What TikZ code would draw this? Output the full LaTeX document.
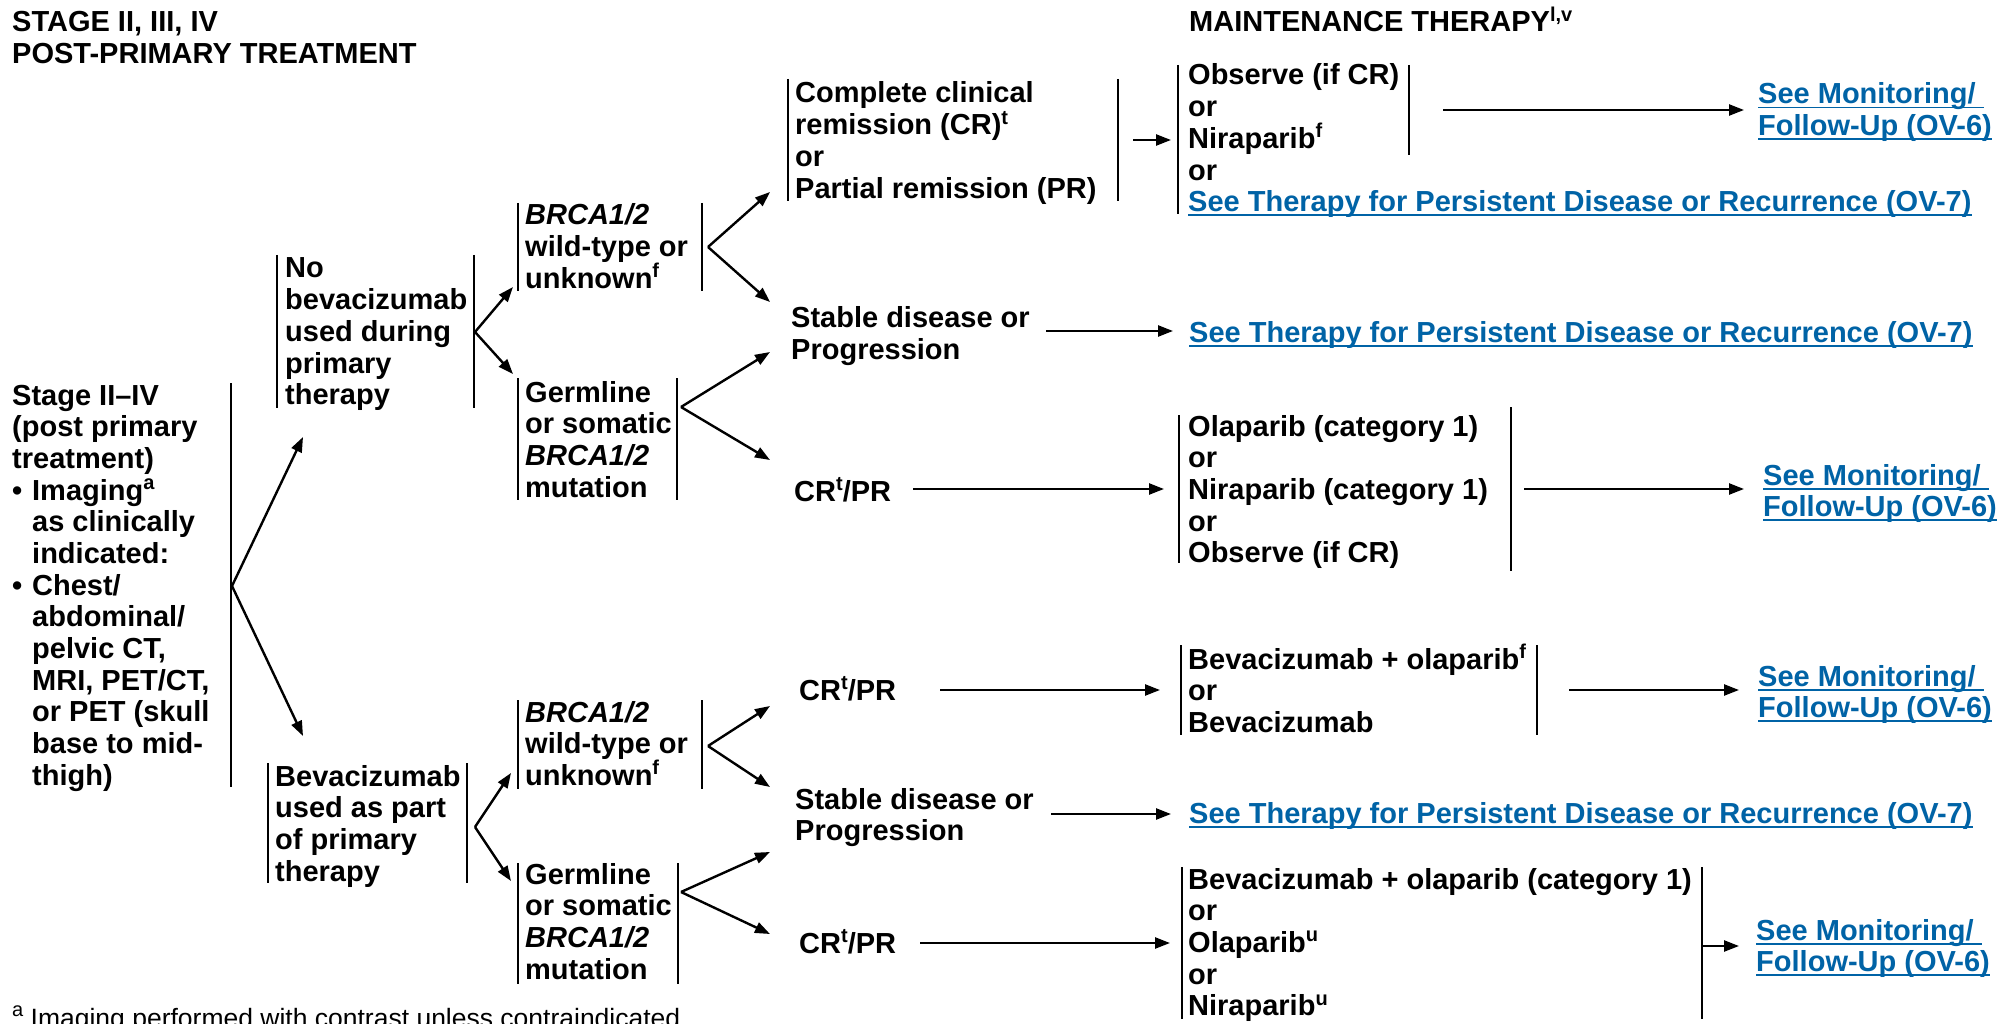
\documentclass[tikz,border=0pt]{standalone}
\usepackage{fontspec}
\setmainfont{Liberation Sans}
\usetikzlibrary{arrows.meta}
\definecolor{linkblue}{RGB}{0,99,166}
\newsavebox\ulbox
\newcommand\ulink[1]{\sbox\ulbox{#1}\rlap{\rule[-4.5pt]{\wd\ulbox}{1.8pt}}\usebox\ulbox}
\newcommand\lnk[1]{{\color{linkblue}\ulink{#1}}}
\newcommand\sups[1]{\smash{\raisebox{10.5pt}{\fontsize{20}{20}\selectfont #1}}}
\newcommand\lines[1]{\begin{tabular}[t]{@{}l@{}}#1\end{tabular}}
\newcommand\bul{\makebox[20pt][l]{•}}
\newcommand\ind{\hspace*{20pt}}
\tikzset{
  txt/.style={inner sep=0pt, anchor=base west, font=\fontsize{29}{31.7}\selectfont\bfseries},
  bar/.style={line width=2.6pt},
  arr/.style={line width=2.4pt, -{Triangle[length=15pt,width=11pt]}},
}
\begin{document}
\begin{tikzpicture}[x=1pt,y=-1pt]
\useasboundingbox (0,0) rectangle (2011,1024);
\clip (0,0) rectangle (2011,1024);
\fill[white] (0,0) rectangle (2011,1024);

% headers
\node[txt] (H1) at (12,32) {\lines{STAGE II, III, IV\\POST-PRIMARY TREATMENT}};
\node[txt] (H2) at (1189,32) {MAINTENANCE THERAPY\sups{l,v}};

% column 1
\node[txt] (L) at (12,405) {\lines{Stage II–IV\\(post primary\\treatment)\\\bul Imaging\sups{a}\\\ind as clinically\\\ind indicated:\\\bul Chest/\\\ind abdominal/\\\ind pelvic CT,\\\ind MRI, PET/CT,\\\ind or PET (skull\\\ind base to mid-\\\ind thigh)}};

% column 2
\node[txt] (N) at (285,278) {\lines{No\\bevacizumab\\used during\\primary\\therapy}};
\node[txt] (B) at (275,786) {\lines{Bevacizumab\\used as part\\of primary\\therapy}};

% column 3
\node[txt] (W1) at (525,225) {\lines{\textit{BRCA1/2}\\wild-type or\\unknown\sups{f}}};
\node[txt] (G1) at (525,402) {\lines{Germline\\or somatic\\\textit{BRCA1/2}\\mutation}};
\node[txt] (W2) at (525,722) {\lines{\textit{BRCA1/2}\\wild-type or\\unknown\sups{f}}};
\node[txt] (G2) at (525,884) {\lines{Germline\\or somatic\\\textit{BRCA1/2}\\mutation}};

% column 4
\node[txt] (C1) at (795,103) {\lines{Complete clinical\\remission (CR)\sups{t}\\or\\Partial remission (PR)}};
\node[txt] (S1) at (791,328) {\lines{Stable disease or\\Progression}};
\node[txt] (R1) at (794,501) {CR\sups{t}/PR};
\node[txt] (R2) at (799,700) {CR\sups{t}/PR};
\node[txt] (S2) at (795,809) {\lines{Stable disease or\\Progression}};
\node[txt] (R3) at (799,953) {CR\sups{t}/PR};

% column 5
\node[txt] (O1) at (1188,85) {\lines{Observe (if CR)\\or\\Niraparib\sups{f}\\or\\\lnk{See Therapy for Persistent Disease or Recurrence (OV-7)}}};
\node[txt] (T1) at (1189,342) {\lnk{See Therapy for Persistent Disease or Recurrence (OV-7)}};
\node[txt] (O2) at (1188,436) {\lines{Olaparib (category 1)\\or\\Niraparib (category 1)\\or\\Observe (if CR)}};
\node[txt] (O3) at (1188,669) {\lines{Bevacizumab + olaparib\sups{f}\\or\\Bevacizumab}};
\node[txt] (T2) at (1189,823) {\lnk{See Therapy for Persistent Disease or Recurrence (OV-7)}};
\node[txt] (O4) at (1188,889) {\lines{Bevacizumab + olaparib (category 1)\\or\\Olaparib\sups{u}\\or\\Niraparib\sups{u}}};

% column 6
\node[txt] (M1) at (1758,104) {\lines{\lnk{See Monitoring/\ }\\\lnk{Follow-Up (OV-6)}}};
\node[txt] (M2) at (1763,485) {\lines{\lnk{See Monitoring/\ }\\\lnk{Follow-Up (OV-6)}}};
\node[txt] (M3) at (1758,686) {\lines{\lnk{See Monitoring/\ }\\\lnk{Follow-Up (OV-6)}}};
\node[txt] (M4) at (1756,940) {\lines{\lnk{See Monitoring/\ }\\\lnk{Follow-Up (OV-6)}}};

% footnote
\node[inner sep=0pt, anchor=base west, font=\fontsize{26.5}{30}\selectfont] (FN) at (12,1027) {\sups{a}~Imaging performed with contrast unless contraindicated.};

% bars
\draw[bar] (231,383) -- (231,787);
\draw[bar] (277,255) -- (277,408);  \draw[bar] (474,255) -- (474,408);
\draw[bar] (268,763) -- (268,883);  \draw[bar] (467,763) -- (467,883);
\draw[bar] (518,203) -- (518,291);  \draw[bar] (702,203) -- (702,291);
\draw[bar] (518,378) -- (518,500);  \draw[bar] (677,378) -- (677,500);
\draw[bar] (518,700) -- (518,789);  \draw[bar] (702,700) -- (702,789);
\draw[bar] (518,863) -- (518,984);  \draw[bar] (678,863) -- (678,984);
\draw[bar] (788,79) -- (788,201);   \draw[bar] (1118,79) -- (1118,201);
\draw[bar] (1178,65) -- (1178,214); \draw[bar] (1409,65) -- (1409,155);
\draw[bar] (1179,415) -- (1179,563); \draw[bar] (1511,407) -- (1511,571);
\draw[bar] (1181,645) -- (1181,735); \draw[bar] (1537,645) -- (1537,735);
\draw[bar] (1182,867) -- (1182,1019); \draw[bar] (1702,867) -- (1702,1019);

% fork coordinates
\coordinate (fL) at (232,586);  \coordinate (tL1) at (303,437); \coordinate (tL2) at (303,736);
\coordinate (fN) at (475,332);  \coordinate (tN1) at (513,287); \coordinate (tN2) at (513,374);
\coordinate (fB) at (475,827);  \coordinate (tB1) at (511,773); \coordinate (tB2) at (511,881);
\coordinate (fW1) at (708,247); \coordinate (tW1a) at (770,192); \coordinate (tW1b) at (770,302);
\coordinate (fG1) at (681,407); \coordinate (tG1a) at (770,352); \coordinate (tG1b) at (770,460);
\coordinate (fW2) at (708,746); \coordinate (tW2a) at (770,706); \coordinate (tW2b) at (770,787);
\coordinate (fG2) at (681,892); \coordinate (tG2a) at (770,852); \coordinate (tG2b) at (770,934);

\draw[arr] (fL) -- (tL1);   \draw[arr] (fL) -- (tL2);
\draw[arr] (fN) -- (tN1);   \draw[arr] (fN) -- (tN2);
\draw[arr] (fB) -- (tB1);   \draw[arr] (fB) -- (tB2);
\draw[arr] (fW1) -- (tW1a); \draw[arr] (fW1) -- (tW1b);
\draw[arr] (fG1) -- (tG1a); \draw[arr] (fG1) -- (tG1b);
\draw[arr] (fW2) -- (tW2a); \draw[arr] (fW2) -- (tW2b);
\draw[arr] (fG2) -- (tG2a); \draw[arr] (fG2) -- (tG2b);

% horizontal connectors
\coordinate (c1o) at (1133,140); \coordinate (o1i) at (1171,140);
\coordinate (o1o) at (1443,110); \coordinate (m1i) at (1744,110);
\coordinate (s1o) at (1046,331); \coordinate (t1i) at (1173,331);
\coordinate (r1o) at (913,489);  \coordinate (o2i) at (1164,489);
\coordinate (o2o) at (1524,489); \coordinate (m2i) at (1744,489);
\coordinate (r2o) at (940,690);  \coordinate (o3i) at (1160,690);
\coordinate (o3o) at (1569,690); \coordinate (m3i) at (1739,690);
\coordinate (s2o) at (1051,814); \coordinate (t2i) at (1171,814);
\coordinate (r3o) at (920,943);  \coordinate (o4i) at (1170,943);
\coordinate (o4o) at (1702,946); \coordinate (m4i) at (1739,946);

\draw[arr] (c1o) -- (o1i);
\draw[arr] (o1o) -- (m1i);
\draw[arr] (s1o) -- (t1i);
\draw[arr] (r1o) -- (o2i);
\draw[arr] (o2o) -- (m2i);
\draw[arr] (r2o) -- (o3i);
\draw[arr] (o3o) -- (m3i);
\draw[arr] (s2o) -- (t2i);
\draw[arr] (r3o) -- (o4i);
\draw[arr] (o4o) -- (m4i);
\end{tikzpicture}
\end{document}
